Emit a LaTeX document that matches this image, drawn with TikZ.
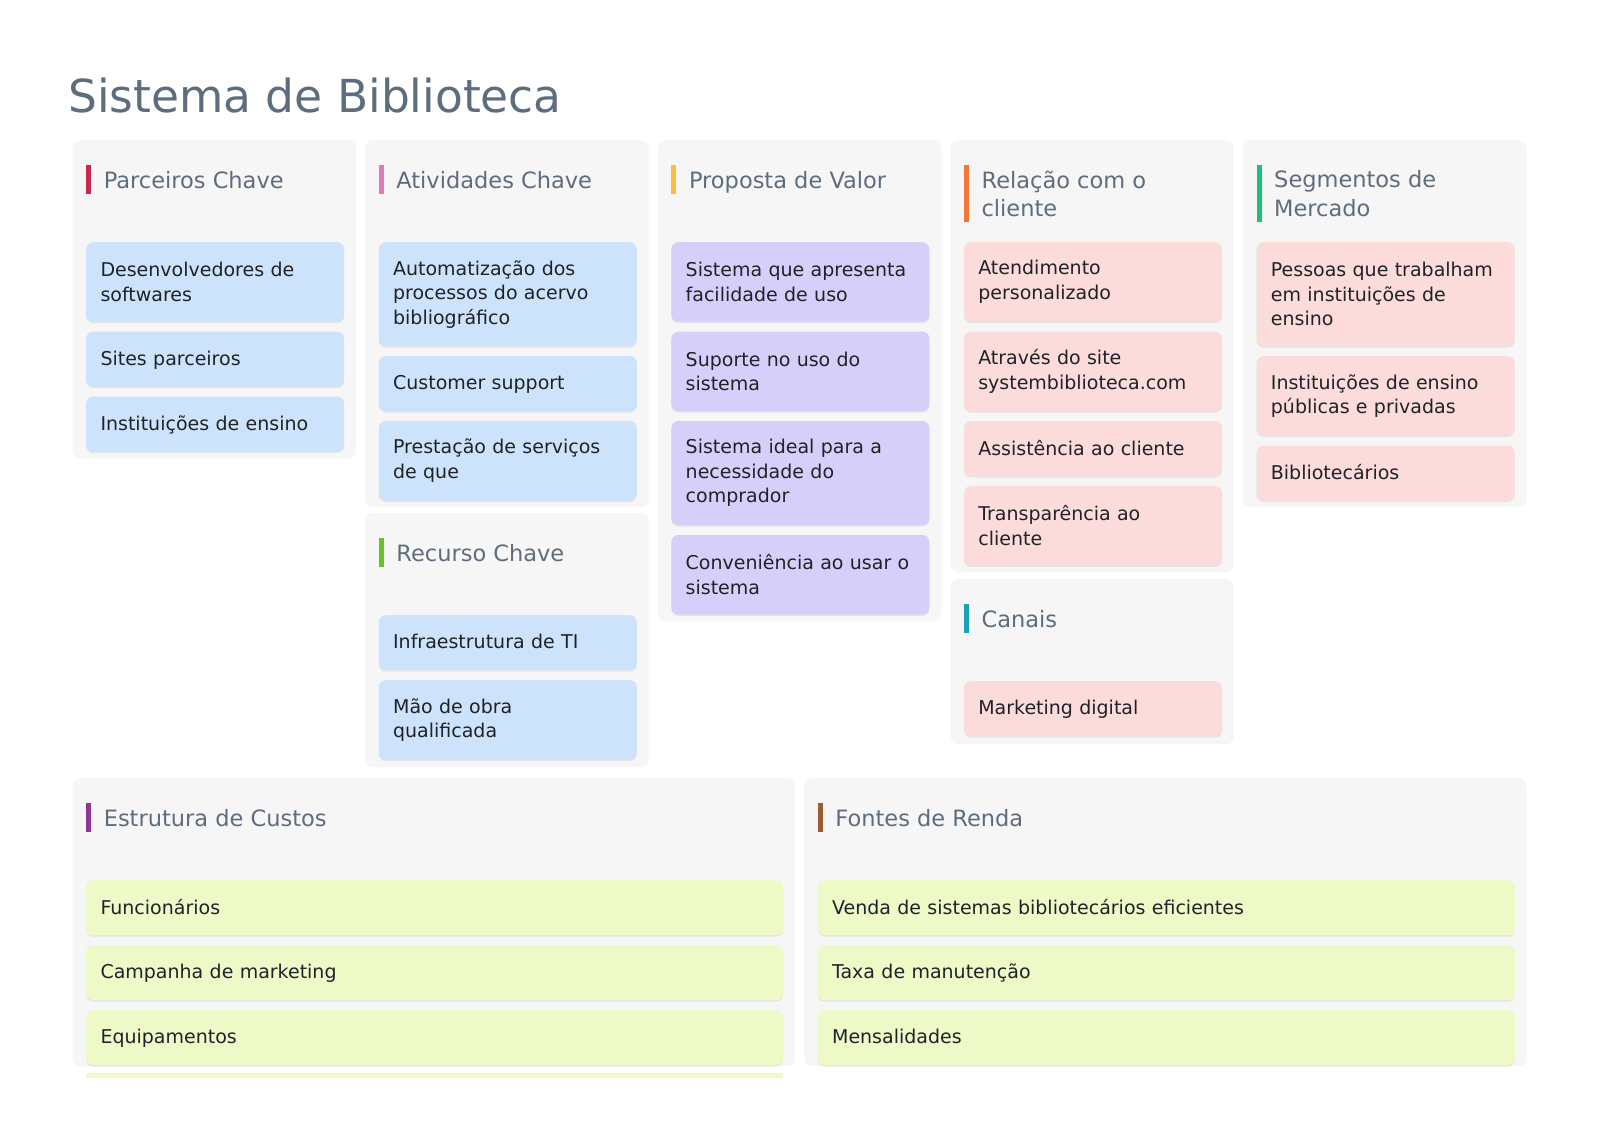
\documentclass[tikz,border=0pt]{standalone}
\usepackage{fontspec}
\setmainfont{DejaVu Sans}
\usetikzlibrary{positioning,shadows}

\definecolor{panelgray}{HTML}{F6F6F6}
\definecolor{headgray}{HTML}{5D6D7E}
\definecolor{cardtext}{HTML}{1F2328}
\definecolor{cardblue}{HTML}{CDE3FC}
\definecolor{cardpurple}{HTML}{D5CFFA}
\definecolor{cardpink}{HTML}{FCDBDB}
\definecolor{cardgreen}{HTML}{EEF9C8}
\definecolor{barpar}{HTML}{C8284F}
\definecolor{barati}{HTML}{E07AB8}
\definecolor{barpro}{HTML}{FBBF3C}
\definecolor{barrel}{HTML}{F47535}
\definecolor{barseg}{HTML}{1FC07F}
\definecolor{barrec}{HTML}{6CC02A}
\definecolor{barcan}{HTML}{17A2B8}
\definecolor{barest}{HTML}{8E3596}
\definecolor{barfon}{HTML}{9B5C32}

\newcommand{\titlefont}{\fontsize{45.5}{54}\selectfont}
\newcommand{\headfont}{\fontsize{22.5}{28.6}\selectfont}
\newcommand{\cardfont}{\fontsize{19}{24.5}\selectfont}

\begin{document}
\begin{tikzpicture}[x=1pt,y=-1pt,node distance=9.5pt,
    panel/.style={fill=panelgray,rounded corners=8pt,inner sep=0pt,anchor=north west,minimum width=283.5pt},
    bar/.style={fill=#1,inner sep=0pt,minimum width=5pt,minimum height=29pt},
    head/.style={inner sep=0pt,align=left,font=\headfont,text=headgray,text depth=0pt},
    card/.style={fill=#1,rounded corners=7pt,inner xsep=14.3pt,inner ysep=0pt,text width=229.4pt,align=left,font=\cardfont,text=cardtext,
        drop shadow={shadow xshift=0pt,shadow yshift=-1.5pt,opacity=0.07,fill=black}},
    wide/.style={text width=668.4pt},
    l1/.style={minimum height=55pt,text depth=2.2pt},
    l2/.style={minimum height=79.5pt},
    l3/.style={minimum height=104pt}]
    \useasboundingbox[fill=white] (0,0) rectangle (1600,1130);

    \node[anchor=base west,inner sep=0pt,font=\titlefont,text=headgray] (title) at (68,112) {Sistema de Biblioteca};

    % Parceiros Chave
    \node[panel,minimum height=318pt] (pk) at (72.4,140) {};
    \node[bar=barpar,below right=25pt and 13.6pt of pk.north west] (pkb) {};
    \node[head,right=12.2pt of pkb,yshift=-0.5pt] (pkh) {Parceiros Chave};
    \node[card=cardblue,l2,below right=102pt and 13.6pt of pk.north west] (pk1) {Desenvolvedores de\\softwares};
    \node[card=cardblue,l1,below=of pk1] (pk2) {Sites parceiros};
    \node[card=cardblue,l1,below=of pk2] (pk3) {Instituições de ensino};

    % Atividades Chave
    \node[panel,minimum height=367pt] (ak) at (365,140) {};
    \node[bar=barati,below right=25pt and 13.6pt of ak.north west] (akb) {};
    \node[head,right=12.2pt of akb,yshift=-0.5pt] (akh) {Atividades Chave};
    \node[card=cardblue,l3,below right=102pt and 13.6pt of ak.north west] (ak1) {Automatização dos\\processos do acervo\\bibliográfico};
    \node[card=cardblue,l1,below=of ak1] (ak2) {Customer support};
    \node[card=cardblue,l2,below=of ak2] (ak3) {Prestação de serviços\\de que};

    % Recurso Chave
    \node[panel,minimum height=254pt] (rk) at (365,513) {};
    \node[bar=barrec,below right=25pt and 13.6pt of rk.north west] (rkb) {};
    \node[head,right=12.2pt of rkb,yshift=-0.5pt] (rkh) {Recurso Chave};
    \node[card=cardblue,l1,below right=102pt and 13.6pt of rk.north west] (rk1) {Infraestrutura de TI};
    \node[card=cardblue,l2,below=of rk1] (rk2) {Mão de obra\\qualificada};

    % Proposta de Valor
    \node[panel,minimum height=481pt] (pv) at (657.6,140) {};
    \node[bar=barpro,below right=25pt and 13.6pt of pv.north west] (pvb) {};
    \node[head,right=12.2pt of pvb,yshift=-0.5pt] (pvh) {Proposta de Valor};
    \node[card=cardpurple,l2,below right=102pt and 13.6pt of pv.north west] (pv1) {Sistema que apresenta\\facilidade de uso};
    \node[card=cardpurple,l2,below=of pv1] (pv2) {Suporte no uso do\\sistema};
    \node[card=cardpurple,l3,below=of pv2] (pv3) {Sistema ideal para a\\necessidade do\\comprador};
    \node[card=cardpurple,l2,below=of pv3] (pv4) {Conveniência ao usar o\\sistema};

    % Relacao com o cliente
    \node[panel,minimum height=432pt] (rc) at (950.2,140) {};
    \node[bar=barrel,minimum height=57pt,below right=25pt and 13.6pt of rc.north west] (rcb) {};
    \node[head,right=12.2pt of rcb] (rch) {Relação com o\\cliente};
    \node[card=cardpink,l2,below right=102pt and 13.6pt of rc.north west] (rc1) {Atendimento\\personalizado};
    \node[card=cardpink,l2,below=of rc1] (rc2) {Através do site\\systembiblioteca.com};
    \node[card=cardpink,l1,below=of rc2] (rc3) {Assistência ao cliente};
    \node[card=cardpink,l2,below=of rc3] (rc4) {Transparência ao\\cliente};

    % Canais
    \node[panel,minimum height=165pt] (cn) at (950.2,579) {};
    \node[bar=barcan,below right=25pt and 13.6pt of cn.north west] (cnb) {};
    \node[head,right=12.2pt of cnb,yshift=-0.5pt] (cnh) {Canais};
    \node[card=cardpink,l1,below right=102pt and 13.6pt of cn.north west] (cn1) {Marketing digital};

    % Segmentos de Mercado
    \node[panel,minimum height=367pt] (sm) at (1242.8,140) {};
    \node[bar=barseg,minimum height=57pt,below right=25pt and 13.6pt of sm.north west] (smb) {};
    \node[head,right=12.2pt of smb] (smh) {Segmentos de\\Mercado};
    \node[card=cardpink,l3,below right=102pt and 13.6pt of sm.north west] (sm1) {Pessoas que trabalham\\em instituições de\\ensino};
    \node[card=cardpink,l2,below=of sm1] (sm2) {Instituições de ensino\\públicas e privadas};
    \node[card=cardpink,l1,below=of sm2] (sm3) {Bibliotecários};

    % Estrutura de Custos
    \node[panel,minimum width=722.6pt,minimum height=288pt] (ec) at (72.4,778) {};
    \node[bar=barest,below right=25pt and 13.6pt of ec.north west] (ecb) {};
    \node[head,right=12.2pt of ecb,yshift=-0.5pt] (ech) {Estrutura de Custos};
    \node[card=cardgreen,wide,l1,below right=102pt and 13.6pt of ec.north west] (ec1) {Funcionários};
    \node[card=cardgreen,wide,l1,below=of ec1] (ec2) {Campanha de marketing};
    \node[card=cardgreen,wide,l1,below=of ec2] (ec3) {Equipamentos};
    \node[fill=cardgreen,rounded corners=2pt,inner sep=0pt,minimum width=697pt,minimum height=5pt,below=7.5pt of ec3] (ec4) {};

    % Fontes de Renda
    \node[panel,minimum width=722.3pt,minimum height=288pt] (fr) at (804,778) {};
    \node[bar=barfon,below right=25pt and 13.6pt of fr.north west] (frb) {};
    \node[head,right=12.2pt of frb,yshift=-0.5pt] (frh) {Fontes de Renda};
    \node[card=cardgreen,wide,l1,below right=102pt and 13.6pt of fr.north west] (fr1) {Venda de sistemas bibliotecários eficientes};
    \node[card=cardgreen,wide,l1,below=of fr1] (fr2) {Taxa de manutenção};
    \node[card=cardgreen,wide,l1,below=of fr2] (fr3) {Mensalidades};
\end{tikzpicture}
\end{document}
